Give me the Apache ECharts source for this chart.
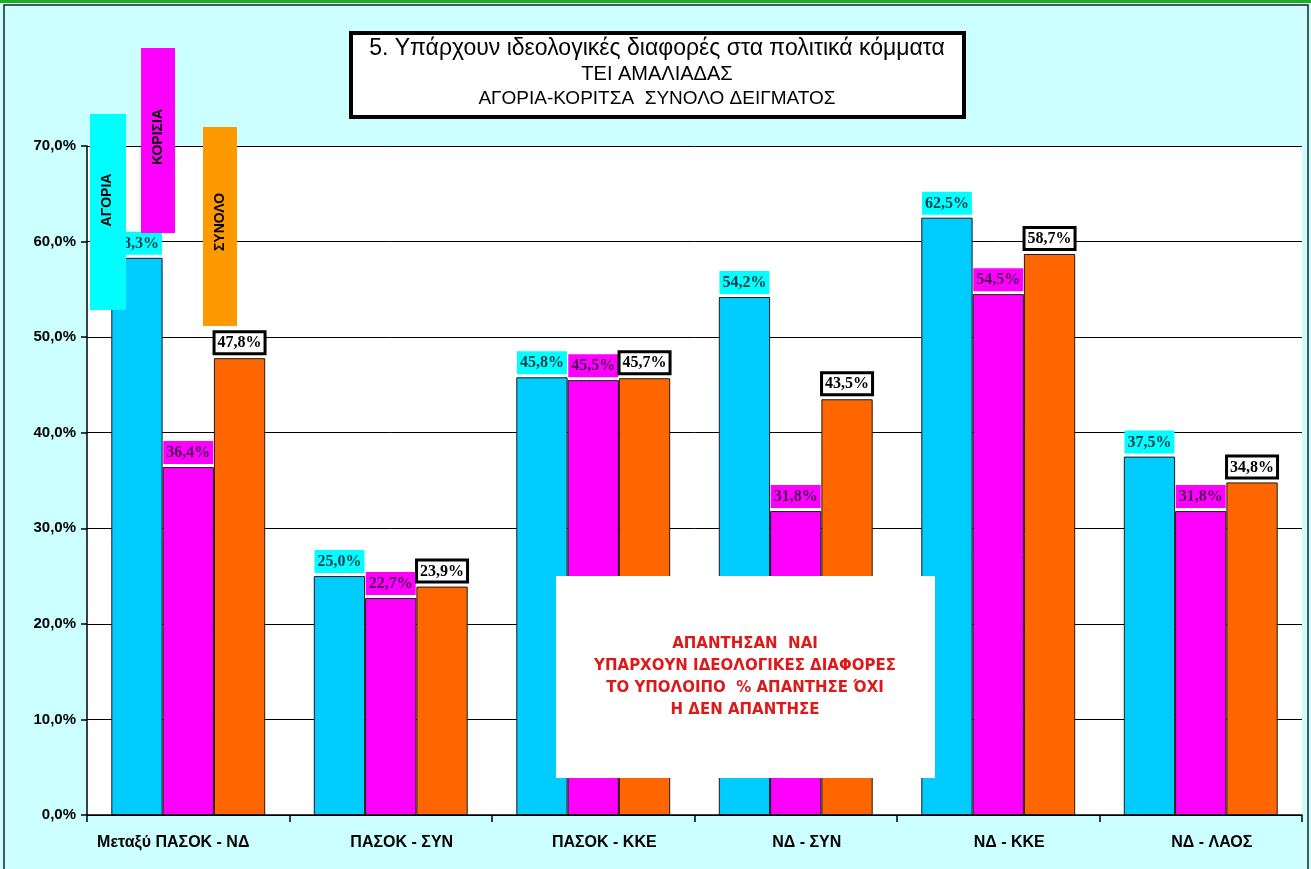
<!DOCTYPE html>
<html>
<head>
<meta charset="utf-8">
<script src="https://cdn.jsdelivr.net/npm/echarts@6/dist/echarts.min.js"></script>
<style>html,body{margin:0;padding:0;background:#ccffff;}#c{width:1311px;height:869px;}</style>
</head>
<body>
<div id="c"></div>
<script>
const categories = ['Μεταξύ ΠΑΣΟΚ - ΝΔ', 'ΠΑΣΟΚ - ΣΥΝ', 'ΠΑΣΟΚ - ΚΚΕ', 'ΝΔ - ΣΥΝ', 'ΝΔ - ΚΚΕ', 'ΝΔ - ΛΑΟΣ'];
const boys = [58.3, 25.0, 45.8, 54.2, 62.5, 37.5];
const girls = [36.4, 22.7, 45.5, 31.8, 54.5, 31.8];
const total = [47.8, 23.9, 45.7, 43.5, 58.7, 34.8];
const yTicks = [0, 10, 20, 30, 40, 50, 60, 70];
const titleLines = ['5. Υπάρχουν ιδεολογικές διαφορές στα πολιτικά κόμματα', 'ΤΕΙ ΑΜΑΛΙΑΔΑΣ', 'ΑΓΟΡΙΑ-ΚΟΡΙΤΣΑ  ΣΥΝΟΛΟ ΔΕΙΓΜΑΤΟΣ'];
const noteLines = ['ΑΠΑΝΤΗΣΑΝ  ΝΑΙ', 'ΥΠΑΡΧΟΥΝ ΙΔΕΟΛΟΓΙΚΕΣ ΔΙΑΦΟΡΕΣ', 'ΤΟ ΥΠΟΛΟΙΠΟ  % ΑΠΑΝΤΗΣΕ ΌΧΙ', 'Η ΔΕΝ ΑΠΑΝΤΗΣΕ'];
const seriesNames = ['ΑΓΟΡΙΑ', 'ΚΟΡΙΣΙΑ', 'ΣΥΝΟΛΟ'];

const fmt = v => v.toFixed(1).replace('.', ',') + '%';
const labelFont = {fontFamily: '"Liberation Serif", "Times New Roman", serif', fontWeight: 'bold', fontSize: 16};
const axisFont = '"Liberation Sans Narrow", "Arial Narrow", "Liberation Sans", Arial, sans-serif';

function makeSeries(name, data, color, lbl) {
  return {
    name: name, type: 'bar', data: data, barGap: '0%', barCategoryGap: '24%',
    itemStyle: {color: color, borderColor: '#1a1a1a', borderWidth: 1},
    label: Object.assign({show: true, position: 'top', distance: 3,
      formatter: p => fmt(p.value)}, labelFont, lbl)
  };
}

const chart = echarts.init(document.getElementById('c'));
chart.setOption({
  backgroundColor: '#ccffff',
  animation: false,
  grid: {left: 87, right: 9, top: 146, bottom: 54, show: true, backgroundColor: '#ffffff', borderWidth: 0},
  xAxis: {
    type: 'category', data: categories,
    axisLine: {lineStyle: {color: '#000', width: 1.5}},
    axisTick: {show: true, length: 7, inside: false, interval: 0, lineStyle: {color: '#000', width: 1.5}},
    axisLabel: {margin: 20, interval: 0, hideOverlap: false, color: '#000', fontWeight: 'bold', fontSize: 16, fontFamily: axisFont,
      formatter: (v, i) => (i === 0 ? '{f|' + v + '}' : '{o|' + v + '}'),
      rich: {
        f: {fontWeight: 'bold', fontSize: 16, fontFamily: axisFont, color: '#000', padding: [0, 30, 0, 0]},
        o: {fontWeight: 'bold', fontSize: 16, fontFamily: axisFont, color: '#000', padding: [0, 0, 0, 22]}
      }}
  },
  yAxis: {
    type: 'value', min: 0, max: 70, interval: 10,
    axisLine: {show: true, lineStyle: {color: '#000', width: 1.5}},
    axisTick: {show: true, length: 6, lineStyle: {color: '#000', width: 1.5}},
    splitLine: {show: true, lineStyle: {color: '#000', width: 1}},
    axisLabel: {margin: 11, color: '#000', fontWeight: 'bold', fontSize: 15, fontFamily: axisFont,
      customValues: yTicks, formatter: v => fmt(v)}
  },
  series: [
    makeSeries(seriesNames[0], boys, '#00ccff', {backgroundColor: '#00ffff', color: '#0f3a4a', padding: [4, 3, 3, 3]}),
    makeSeries(seriesNames[1], girls, '#ff00ff', {backgroundColor: '#ff00ff', color: '#4a0a55', padding: [4, 3, 3, 3]}),
    makeSeries(seriesNames[2], total, '#ff6600', {backgroundColor: '#ffffff', color: '#000', borderColor: '#000', borderWidth: 3, padding: [2, 2, 1, 2], distance: 6})
  ],
  graphic: [
    {type: 'rect', z: 0, shape: {x: 0, y: 0, width: 1311, height: 3}, style: {fill: '#22aa22'}},
    {type: 'rect', z: 0, shape: {x: 4, y: 5, width: 1304, height: 870}, style: {fill: 'none', stroke: '#222', lineWidth: 1.5}},
    // title box
    {type: 'rect', z: 50, shape: {x: 351, y: 33, width: 613, height: 84}, style: {fill: '#fff', stroke: '#000', lineWidth: 4}},
    {type: 'text', z: 51, x: 657, y: 49, style: {text: titleLines[0], fontSize: 23, fontFamily: '"Liberation Sans", Arial, sans-serif', fill: '#000', align: 'center', verticalAlign: 'middle'}},
    {type: 'text', z: 51, x: 657, y: 74, style: {text: titleLines[1], fontSize: 20, fontFamily: '"Liberation Sans", Arial, sans-serif', fill: '#000', align: 'center', verticalAlign: 'middle'}},
    {type: 'text', z: 51, x: 657, y: 99, style: {text: titleLines[2], fontSize: 19, fontFamily: '"Liberation Sans", Arial, sans-serif', fill: '#000', align: 'center', verticalAlign: 'middle'}},
    // note box
    {type: 'rect', z: 50, shape: {x: 556, y: 576, width: 379, height: 202}, style: {fill: '#fff'}},
    {type: 'text', z: 51, x: 745, y: 677, style: {text: noteLines.join('\n'), lineHeight: 22, fontSize: 15, fontWeight: 'bold', fontFamily: '"DejaVu Sans", "Liberation Sans", Arial, sans-serif', fill: '#dd1a1a', align: 'center', verticalAlign: 'middle'}},
    // legend boxes
    {type: 'rect', z: 60, shape: {x: 90, y: 114, width: 36, height: 196}, style: {fill: '#00ffff'}},
    {type: 'text', z: 61, x: 107, y: 200, rotation: Math.PI / 2, style: {text: seriesNames[0], fontSize: 14, fontWeight: 'bold', fontFamily: '"Liberation Sans", Arial, sans-serif', fill: '#000', align: 'center', verticalAlign: 'middle'}},
    {type: 'rect', z: 60, shape: {x: 141, y: 48, width: 34, height: 185}, style: {fill: '#ff00ff'}},
    {type: 'text', z: 61, x: 158, y: 137, rotation: Math.PI / 2, style: {text: seriesNames[1], fontSize: 14, fontWeight: 'bold', fontFamily: '"Liberation Sans", Arial, sans-serif', fill: '#000', align: 'center', verticalAlign: 'middle'}},
    {type: 'rect', z: 60, shape: {x: 203, y: 127, width: 34, height: 199}, style: {fill: '#ff9900'}},
    {type: 'text', z: 61, x: 220, y: 222, rotation: Math.PI / 2, style: {text: seriesNames[2], fontSize: 14, fontWeight: 'bold', fontFamily: '"Liberation Sans", Arial, sans-serif', fill: '#000', align: 'center', verticalAlign: 'middle'}}
  ]
});
</script>
</body>
</html>
